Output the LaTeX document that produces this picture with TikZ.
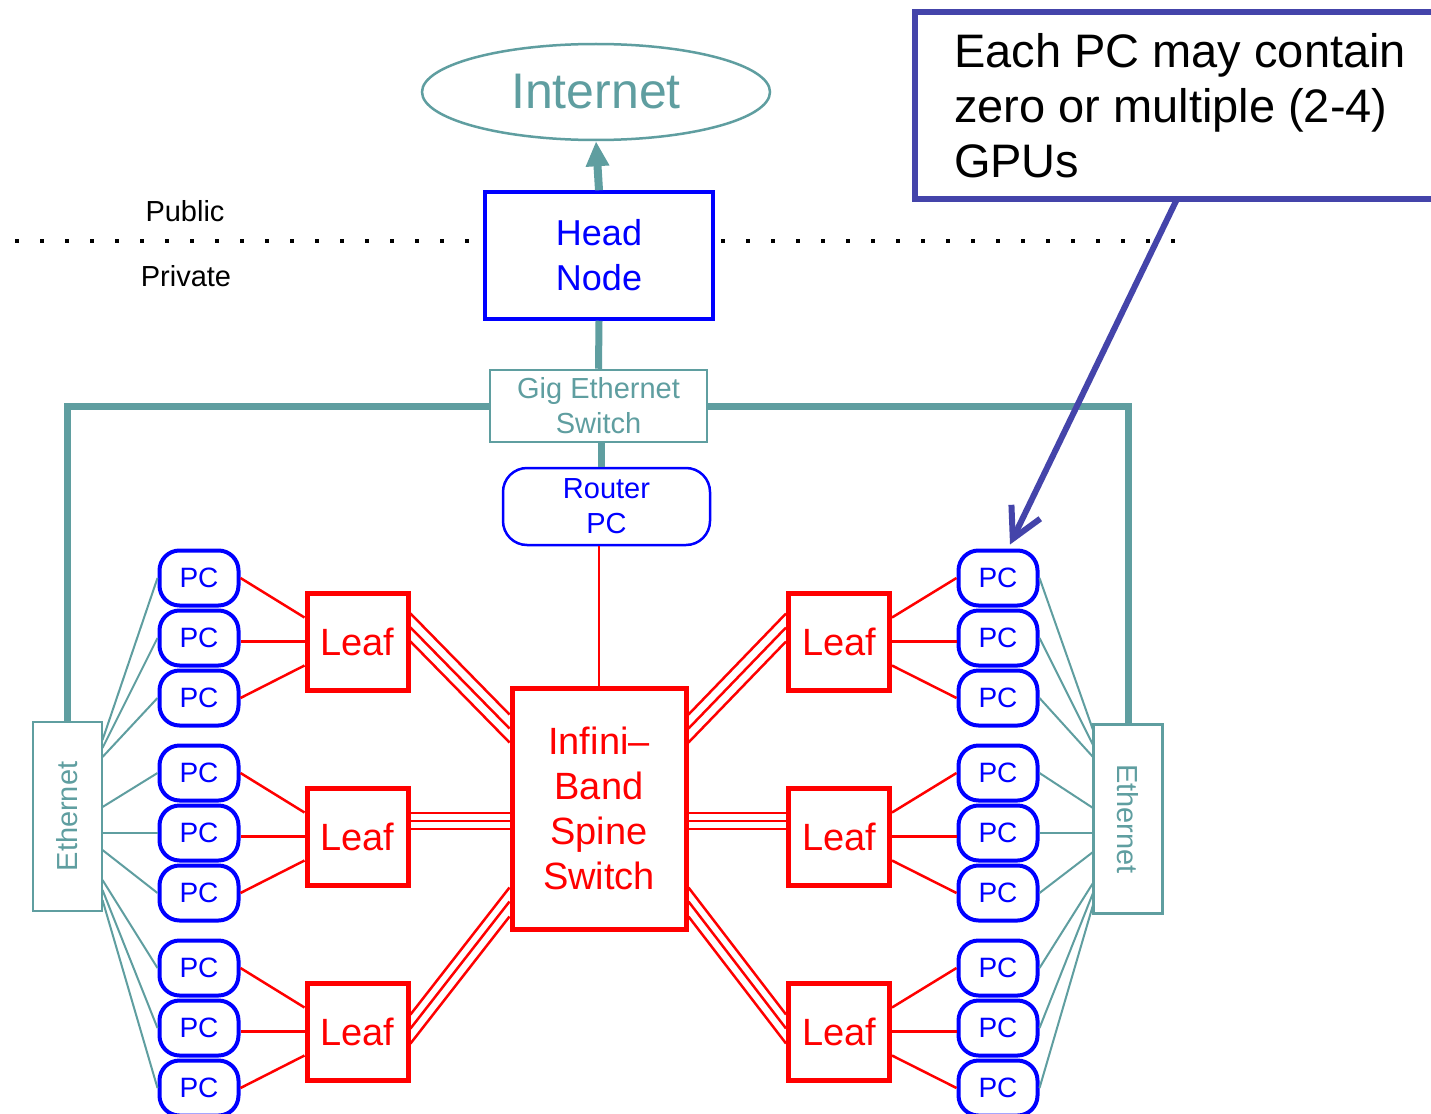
\documentclass[tikz,border=0pt]{standalone}
\usepackage{fontspec}
\setmainfont{Liberation Sans}
\usetikzlibrary{arrows.meta,shapes.geometric,calc}
\definecolor{tealc}{RGB}{95,158,160}
\definecolor{pcblue}{RGB}{0,0,255}
\definecolor{leafred}{RGB}{255,0,0}
\definecolor{notec}{RGB}{68,68,170}
\begin{document}
\begin{tikzpicture}[x=1pt,y=-1pt,
  pcbox/.style={draw=pcblue, line width=4pt, rounded corners=20pt, minimum width=79pt, minimum height=55pt, inner sep=0pt, text=pcblue, font=\fontsize{28}{30}\selectfont},
  leafbox/.style={draw=leafred, line width=5pt, minimum width=101pt, minimum height=97pt, inner sep=0pt, text=leafred, font=\fontsize{38}{40}\selectfont},
  ethbox/.style={draw=tealc, line width=2.5pt, minimum width=189pt, minimum height=69pt, inner sep=0pt, text=tealc, font=\fontsize{29}{30}\selectfont},
  redlink/.style={draw=leafred, line width=2.5pt},
  thinteal/.style={draw=tealc, line width=2pt},
  thickteal/.style={draw=tealc, line width=7pt},
  dotline/.style={draw=black, line width=4pt, dash pattern=on 4pt off 21pt},
]
\useasboundingbox (0,0) rectangle (1431,1113);
\fill[white] (0,0) rectangle (1431,1113);
\clip (0,0) rectangle (1431,1113);

% divider
\coordinate (dl1) at (15,241);
\coordinate (dl2) at (482,241);
\coordinate (dr1) at (721,241);
\coordinate (dr2) at (1184,241);
\draw[dotline] (dl1) -- (dl2);
\draw[dotline] (dr1) -- (dr2);
\node[font=\fontsize{29}{30}\selectfont] (pub) at (185,211) {Public};
\node[font=\fontsize{29}{30}\selectfont] (priv) at (186,276) {Private};

% main nodes
\node[ellipse, draw=tealc, line width=2.5pt, minimum width=348pt, minimum height=96pt, inner sep=0pt, text=tealc, font=\fontsize{50}{52}\selectfont] (inet) at (596,92) {Internet};
\node[draw=pcblue, fill=white, line width=3.5pt, minimum width=228pt, minimum height=127pt, inner sep=0pt, align=center, text=pcblue, font=\fontsize{36}{45}\selectfont] (head) at (599,255.5) {Head\\Node};
\node[draw=tealc, line width=2.5pt, minimum width=217pt, minimum height=72pt, inner sep=0pt, align=center, text=tealc, font=\fontsize{29}{35}\selectfont] (gig) at (598.5,406) {Gig Ethernet\\Switch};
\node[draw=pcblue, line width=2.5pt, rounded corners=24pt, minimum width=207pt, minimum height=77pt, inner sep=0pt, align=center, text=pcblue, font=\fontsize{29}{35}\selectfont] (router) at (606.5,506.5) {Router\\PC};
\node[draw=leafred, line width=5pt, minimum width=174pt, minimum height=241pt, inner sep=0pt, align=center, text=leafred, font=\fontsize{38}{45}\selectfont] (spine) at (599,808.5) {Infini--\\Band\\Spine\\Switch};

\foreach \i/\y in {1/641.5,2/836.5,3/1031.5} {
  \node[leafbox] (leafL\i) at (357.5,\y) {Leaf};
  \node[leafbox] (leafR\i) at (839,\y) {Leaf};
}
\foreach \i/\y in {1/578,2/638,3/698,4/773,5/833,6/893,7/968,8/1028,9/1088} {
  \node[pcbox] (pcL\i) at (199,\y) {PC};
  \node[pcbox] (pcR\i) at (998,\y) {PC};
}
\node[ethbox, rotate=90] (ethL) at (67.5,816.5) {Ethernet};
\node[ethbox, rotate=-90] (ethR) at (1128,819) {Ethernet};

% teal backbone
\draw[tealc, line width=8pt, -{Triangle[length=25pt,width=22pt]}] (head.north) -- (inet.south);
\draw[thickteal] (head.south) -- (gig.north);
\draw[thickteal] (gig.west) -| ($(ethL.center)+(0,-94.5)$);
\draw[thickteal] (gig.east) -| ($(ethR.center)+(0,-94)$);
\draw[thickteal] ([xshift=3pt]gig.south) -- ([xshift=3pt]gig.south |- router.north);
\draw[leafred, line width=2.5pt] (router.south -| spine.north) -- (spine.north);

% leaf - PC links
\foreach \l/\a/\b/\c in {1/1/2/3, 2/4/5/6, 3/7/8/9} {
  \draw[redlink] (pcL\a.east) -- ($(leafL\l.west)+(0,-24)$);
  \draw[redlink] (leafL\l.west) -- (leafL\l.west -| pcL\b.east);
  \draw[redlink] (pcL\c.east) -- ($(leafL\l.west)+(0,24)$);
  \draw[redlink] (pcR\a.west) -- ($(leafR\l.east)+(0,-24)$);
  \draw[redlink] (leafR\l.east) -- (leafR\l.east -| pcR\b.west);
  \draw[redlink] (pcR\c.west) -- ($(leafR\l.east)+(0,24)$);
}

% spine - leaf triple links
\foreach \d/\e in {-28/-94, -14/-80, 0/-66} {
  \draw[redlink] ($(leafL1.east)+(0,\d)$) -- ($(spine.west)+(0,\e)$);
  \draw[redlink] ($(leafR1.west)+(0,\d)$) -- ($(spine.east)+(0,\e)$);
}
\foreach \d/\e in {-23.5/4.5, -15.5/12.5, -7.5/20.5} {
  \draw[redlink] ($(leafL2.east)+(0,\d)$) -- ($(spine.west)+(0,\e)$);
  \draw[redlink] ($(leafR2.west)+(0,\d)$) -- ($(spine.east)+(0,\e)$);
}
\foreach \d/\e in {-17/79, -3/93, 12/108} {
  \draw[redlink] ($(leafL3.east)+(0,\d)$) -- ($(spine.west)+(0,\e)$);
  \draw[redlink] ($(leafR3.west)+(0,\d)$) -- ($(spine.east)+(0,\e)$);
}

% ethernet - PC links
\foreach \p/\o in {1/-76.5, 2/-68.5, 3/-59.5, 4/-9.5, 5/16.5, 6/33.5, 7/63.5, 8/73.5, 9/83.5}
  \draw[thinteal] ($(ethL.center)+(35,\o)$) -- (pcL\p.west);
\foreach \p/\o in {1/-89, 2/-74, 3/-62, 4/-11, 5/14, 6/33, 7/64, 8/74, 9/86}
  \draw[thinteal] ($(ethR.center)+(-35,\o)$) -- (pcR\p.east);

% callout
\node[draw=notec, fill=white, line width=6pt, outer sep=0pt, minimum width=530pt, minimum height=187pt, inner sep=0pt, align=left, text=black, font=\fontsize{47}{55}\selectfont] (note) at (1180,105.5) {Each PC may contain\\zero or multiple (2-4)\\GPUs};
\draw[notec, line width=6pt, -{Straight Barb[length=30pt,width=32pt]}] ($(note.south west)+(262,0)$) -- ($(pcR1.north)+(12,-4)$);
\end{tikzpicture}
\end{document}
